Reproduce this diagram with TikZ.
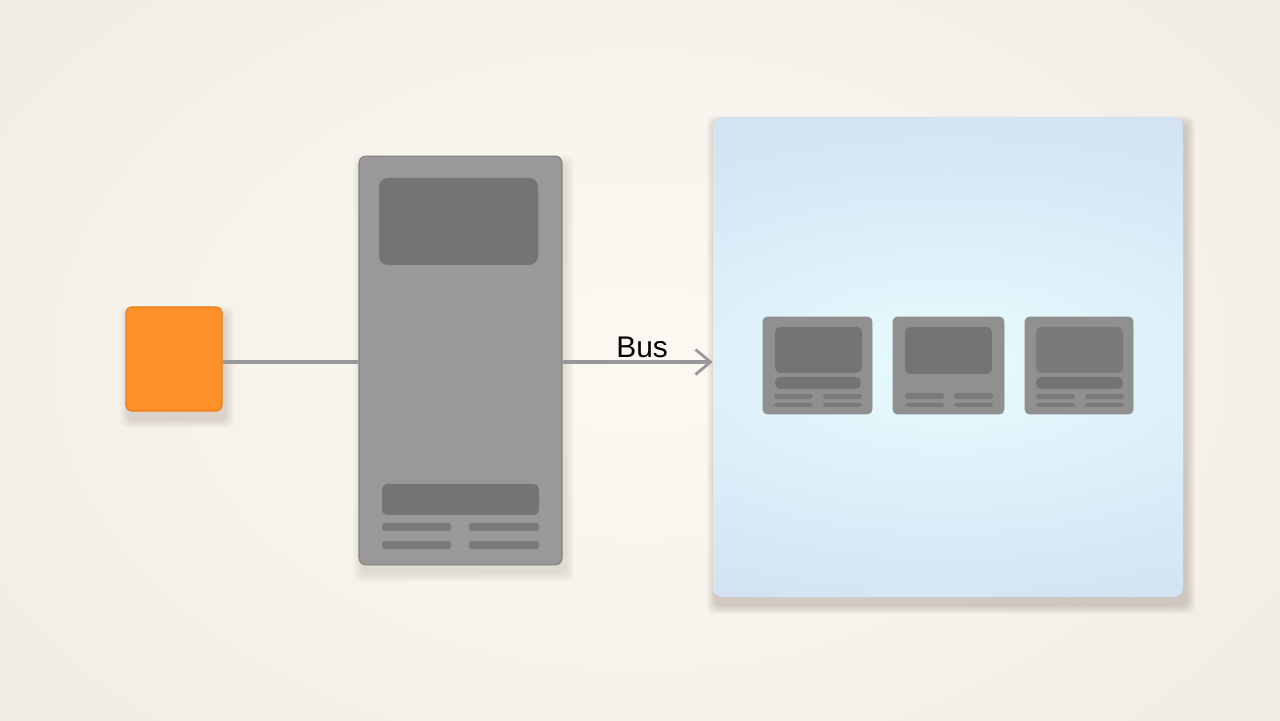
\documentclass[tikz,border=0pt]{standalone}
\usepackage{fontspec}
\setmainfont{Liberation Sans}
\usetikzlibrary{arrows.meta}
\definecolor{bgin}{HTML}{FCF9F3}
\definecolor{bgout}{HTML}{EAE4DD}
\definecolor{orangefill}{HTML}{FB9128}
\definecolor{orangeline}{HTML}{EE7A12}
\definecolor{boxfill}{HTML}{999999}
\definecolor{boxline}{HTML}{808080}
\definecolor{innerfill}{HTML}{747474}
\definecolor{modfill}{HTML}{909090}
\definecolor{panelfill}{HTML}{D3E3F3}
\definecolor{glow}{HTML}{E7FCFE}
\definecolor{linkgray}{HTML}{989898}
\definecolor{shadowtone}{HTML}{6E5A48}
% soft shadow below a box: x1 y1 x2 y2 (px), opacity
\newcommand{\softshadow}[5]{%
  \foreach \s in {1,...,8}
    \fill[shadowtone, opacity=#5, rounded corners=4pt]
      (#1-\s*1.1+3, #2-\s*1.1-8) rectangle (#3+\s*1.1+3, #4+\s*1.1-8);}
\tikzset{
  src/.style={rectangle, rounded corners=3pt, fill=orangefill, draw=orangeline,
      line width=0.6pt, minimum width=1.92cm, minimum height=2.08cm},
  ctrl/.style={rectangle, rounded corners=4pt, fill=boxfill, draw=boxline,
      line width=0.6pt, minimum width=4.06cm, minimum height=8.18cm},
  panel/.style={rectangle, rounded corners=5pt, fill=panelfill,
      minimum width=9.4cm, minimum height=9.6cm},
  unit/.style={rectangle, rounded corners=2.5pt, fill=modfill, draw=boxline!90,
      line width=0.4pt, minimum height=1.94cm},
  inner/.style={fill=innerfill, rounded corners=3pt},
  slot/.style={fill=innerfill!85!boxfill, rounded corners=1.5pt},
  link/.style={draw=linkgray, line width=2.8pt},
}
\begin{document}
\begin{tikzpicture}[x=0.02cm, y=0.02cm]
   % background
   \useasboundingbox (0,0) rectangle (1280,720);
   \begin{scope}
     \clip (0,0) rectangle (1280,720);
     \shade[inner color=bgin, outer color=bgout] (-720,-560) rectangle (2000,1280);
   \end{scope}

   % shadows
   \softshadow{126}{309}{222}{413}{0.025}
   \softshadow{359}{155}{562}{564}{0.02}
   \softshadow{713}{123}{1183}{603}{0.035}

   % nodes
   \node (O) [src]  at (174,361) {};
   \node (C) [ctrl] at (460.5,359.5) {};
   \node (P) [panel] at (948,363) {};

   % glow inside the panel
   \begin{scope}
     \clip[rounded corners=5pt] (713,123) rectangle (1183,603);
     \shade[inner color=glow, outer color=panelfill] (948,355) ellipse [x radius=520, y radius=250];
   \end{scope}

   % controller details
   \fill[inner, rounded corners=5pt] (379,542) rectangle (538,455);
   \fill[inner] (382,236) rectangle (539,205);
   \fill[slot] (382,197) rectangle (451,189);
   \fill[slot] (469,197) rectangle (539,189);
   \fill[slot] (382,179) rectangle (451,171);
   \fill[slot] (469,179) rectangle (539,171);

   % modules
   \node (M1) [unit, minimum width=2.18cm] at (817.5,354.5) {};
   \node (M2) [unit, minimum width=2.22cm] at (948.5,354.5) {};
   \node (M3) [unit, minimum width=2.16cm] at (1079,354.5) {};
   \fill[inner] (775,393) rectangle (862,347);
   \fill[inner] (775,343) rectangle (861,331);
   \fill[slot] (774,326) rectangle (813,321);
   \fill[slot] (823,326) rectangle (862,321);
   \fill[slot] (774,317) rectangle (813,313);
   \fill[slot] (823,317) rectangle (862,313);
   \fill[inner] (905,393) rectangle (992,346);
   \fill[slot] (905,327) rectangle (944,321);
   \fill[slot] (954,327) rectangle (993,321);
   \fill[slot] (905,317) rectangle (944,313);
   \fill[slot] (954,317) rectangle (993,313);
   \fill[inner, fill=innerfill!80!modfill] (1036,393) rectangle (1123,347);
   \fill[inner] (1036,343) rectangle (1123,331);
   \fill[slot] (1036,326) rectangle (1075,321);
   \fill[slot] (1085,326) rectangle (1124,321);
   \fill[slot] (1036,317) rectangle (1075,313);
   \fill[slot] (1085,317) rectangle (1124,313);

   % connectors
   \draw[link] ([yshift=-0.06cm]O.east) -- ([yshift=-0.06cm]O.east -| C.west);
   \draw[link, -{Straight Barb[length=0.3cm, width=0.5cm, line width=1.6pt]}]
     ([yshift=-0.03cm]C.east) -- node [above, pos=0.53, inner sep=1pt, text=black,
        font=\fontsize{17}{19}\selectfont] {Bus} ([yshift=-0.03cm]C.east -| P.west);
  \end{tikzpicture}
\end{document}
